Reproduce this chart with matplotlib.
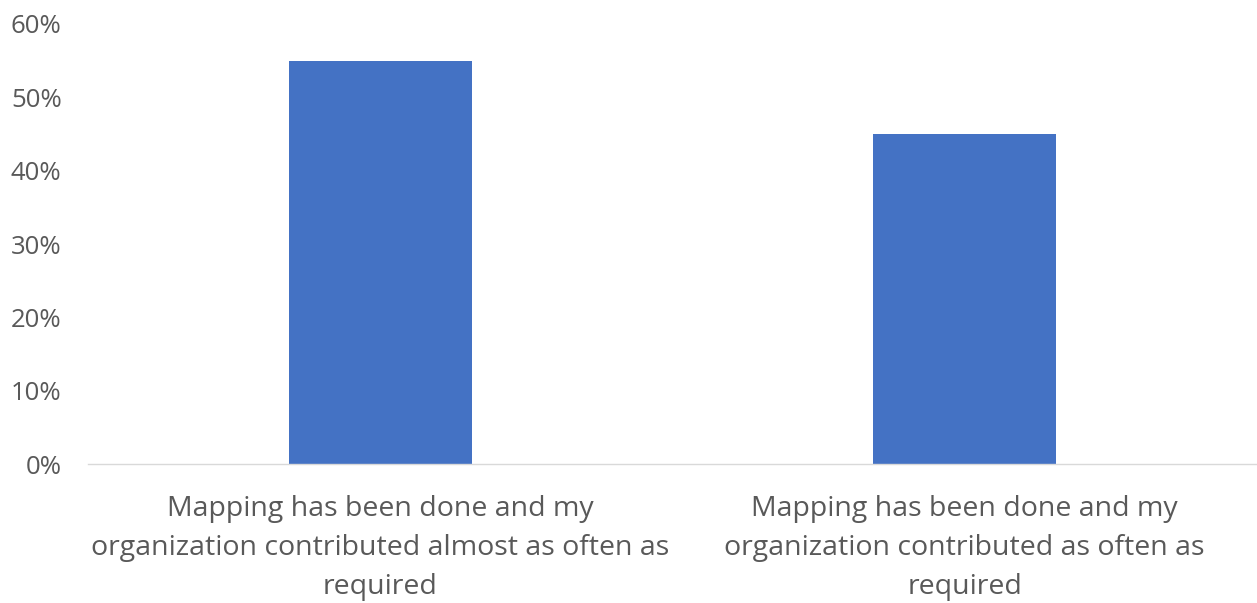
import matplotlib.pyplot as plt
from matplotlib.ticker import PercentFormatter

# данные
categories = ["Mapping has been done and my\norganization contributed almost as often as\nrequired",
              "Mapping has been done and my\norganization contributed as often as\nrequired"]
values = [55, 45]

plt.rcParams['font.family'] = ['Open Sans', 'DejaVu Sans']

fig = plt.figure(figsize=(12.57, 6.03), dpi=100)
ax = fig.add_axes([0.070, 0.2305, 0.930, 0.7297])
ax.bar(range(len(categories)), values, width=0.313, color='#4472C4')
ax.set_xlim(-0.5, 1.5)
ax.set_ylim(0, 60)
ax.set_yticks(range(0, 61, 10))
ax.yaxis.set_major_formatter(PercentFormatter(decimals=0))
ax.set_xticks(range(len(categories)))
ax.set_xticklabels(categories, linespacing=1.53)
ax.tick_params(axis='y', length=0, pad=19, labelsize=18.5, labelcolor='#595959')
ax.tick_params(axis='x', length=0, pad=22, labelsize=20.5, labelcolor='#595959')
for side in ['top', 'right', 'left']:
    ax.spines[side].set_visible(False)
ax.spines['bottom'].set_color('#D9D9D9')
ax.spines['bottom'].set_linewidth(1)

fig.savefig('out.png', dpi=100)
